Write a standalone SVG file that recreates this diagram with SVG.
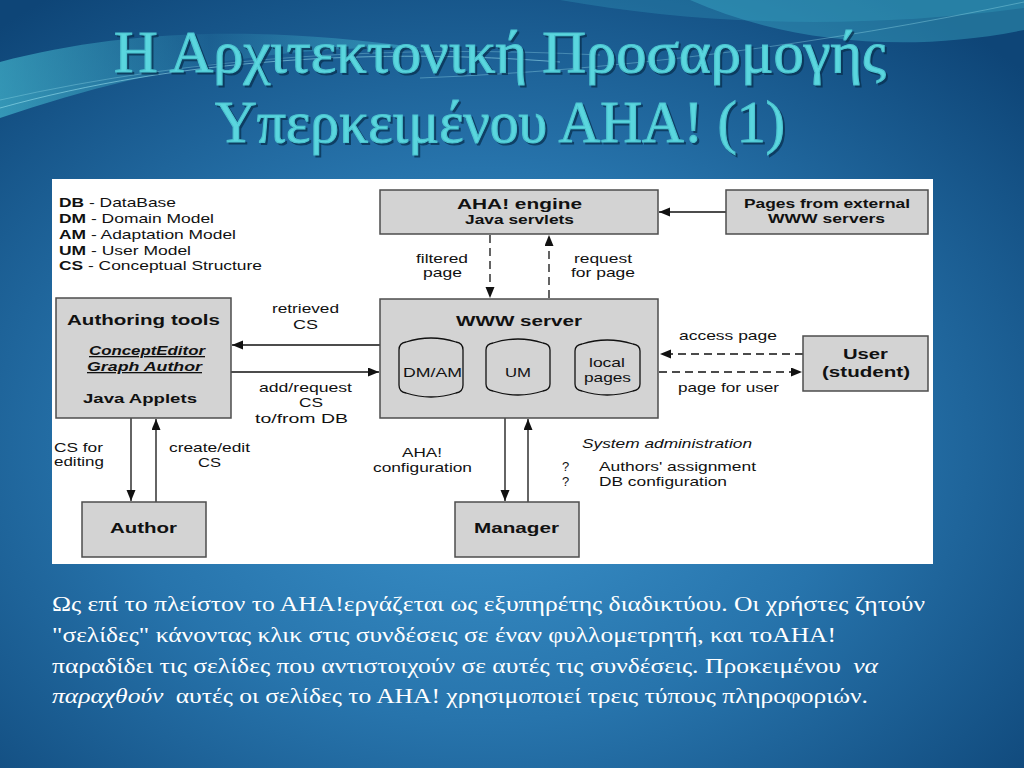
<svg xmlns="http://www.w3.org/2000/svg" width="1024" height="768" viewBox="0 0 1024 768">
<defs>
  <radialGradient id="bg" cx="0.47" cy="0.58" r="0.72">
    <stop offset="0" stop-color="#3d95cd"/>
    <stop offset="0.5" stop-color="#2774ac"/>
    <stop offset="1" stop-color="#0e4577"/>
  </radialGradient>
  <linearGradient id="sw" x1="0" y1="0" x2="1" y2="0">
    <stop offset="0" stop-color="#4fd0e0" stop-opacity="0.55"/>
    <stop offset="0.5" stop-color="#4fd0e0" stop-opacity="0.08"/>
    <stop offset="1" stop-color="#4fd0e0" stop-opacity="0.45"/>
  </linearGradient>
  <marker id="ah" markerUnits="userSpaceOnUse" markerWidth="12" markerHeight="10" refX="11" refY="4.5" orient="auto">
    <path d="M0,0 L11,4.5 L0,9 Z" fill="#111"/>
  </marker>
  <style>
    .t { font-family: "Liberation Sans", Arial, sans-serif; font-size: 13px; fill: #111; }
    .b { font-weight: bold; }
    .h { font-family: "Liberation Sans", Arial, sans-serif; font-size: 15px; font-weight: bold; fill: #111; }
    .box { fill: #d3d3d3; stroke: #4d4d4d; stroke-width: 1.5; }
    .cyl { fill: none; stroke: #111; stroke-width: 1.3; }
    .ln { stroke: #111; stroke-width: 1.3; fill: none; }
    .dash { stroke-dasharray: 8 5; }
    .title { font-family: "Liberation Serif", "Times New Roman", serif; font-size: 60px; fill: #5ad6de; stroke: #4cc4d0; stroke-width: 1.2; }
    .tshadow { font-family: "Liberation Serif", "Times New Roman", serif; font-size: 60px; fill: #08304f; stroke: #08304f; stroke-width: 1.2; opacity: 0.75; }
    .para { font-family: "Liberation Serif", "Times New Roman", serif; font-size: 22px; fill: #ffffff; }
  </style>
</defs>

<!-- background -->
<rect width="1024" height="768" fill="url(#bg)"/>
<path d="M0,62 C 120,30 260,25 420,48 C 280,45 140,70 0,118 Z" fill="url(#sw)"/>
<path d="M690,0 C 780,40 900,55 1024,30 L1024,0 Z" fill="#45c0d6" opacity="0.35"/>
<path d="M560,0 C 700,25 860,30 1024,8 L1024,0 Z" fill="#3ab0cc" opacity="0.25"/>
<path d="M0,108 C 180,58 380,48 560,62" stroke="#9fe6f2" stroke-width="1" fill="none" opacity="0.55"/>
<path d="M0,100 C 200,55 400,45 600,55" stroke="#9fe6f2" stroke-width="0.8" fill="none" opacity="0.4"/>
<path d="M420,78 C 620,70 820,45 1024,2" stroke="#9fe6f2" stroke-width="0.8" fill="none" opacity="0.45"/>

<!-- title -->
<g id="title">
  <text class="tshadow" x="116" y="74" textLength="772" lengthAdjust="spacingAndGlyphs">Η Αρχιτεκτονική Προσαρμογής</text>
  <text class="title" x="114" y="72" textLength="772" lengthAdjust="spacingAndGlyphs">Η Αρχιτεκτονική Προσαρμογής</text>
  <text class="tshadow" x="217" y="144" textLength="570" lengthAdjust="spacingAndGlyphs">Υπερκειμένου ΑΗΑ! (1)</text>
  <text class="title" x="215" y="142" textLength="570" lengthAdjust="spacingAndGlyphs">Υπερκειμένου ΑΗΑ! (1)</text>
</g>

<!-- diagram panel -->
<rect x="52" y="179" width="881" height="385" fill="#ffffff"/>

<g id="legend">
  <text class="t" x="59" y="207" textLength="117" lengthAdjust="spacingAndGlyphs"><tspan class="b">DB</tspan> - DataBase</text>
  <text class="t" x="59" y="223" textLength="155" lengthAdjust="spacingAndGlyphs"><tspan class="b">DM</tspan> - Domain Model</text>
  <text class="t" x="59" y="239" textLength="177" lengthAdjust="spacingAndGlyphs"><tspan class="b">AM</tspan> - Adaptation Model</text>
  <text class="t" x="59" y="255" textLength="132" lengthAdjust="spacingAndGlyphs"><tspan class="b">UM</tspan> - User Model</text>
  <text class="t" x="59" y="270" textLength="203" lengthAdjust="spacingAndGlyphs"><tspan class="b">CS</tspan> - Conceptual Structure</text>
</g>

<g id="connectors">
  <line class="ln" x1="726" y1="212" x2="659" y2="212" marker-end="url(#ah)"/>
  <line class="ln dash" x1="490" y1="235" x2="490" y2="298" marker-end="url(#ah)"/>
  <line class="ln dash" x1="549" y1="298" x2="549" y2="235" marker-end="url(#ah)"/>
  <line class="ln" x1="380" y1="345" x2="232" y2="345" marker-end="url(#ah)"/>
  <line class="ln" x1="231" y1="372" x2="379" y2="372" marker-end="url(#ah)"/>
  <line class="ln dash" x1="803" y1="354" x2="660" y2="354" marker-end="url(#ah)"/>
  <line class="ln dash" x1="659" y1="372" x2="802" y2="372" marker-end="url(#ah)"/>
  <line class="ln" x1="131" y1="418" x2="131" y2="501" marker-end="url(#ah)"/>
  <line class="ln" x1="156" y1="502" x2="156" y2="419" marker-end="url(#ah)"/>
  <line class="ln" x1="505" y1="418" x2="505" y2="501" marker-end="url(#ah)"/>
  <line class="ln" x1="528" y1="502" x2="528" y2="419" marker-end="url(#ah)"/>

  <text class="t" x="416" y="263" textLength="52" lengthAdjust="spacingAndGlyphs">filtered</text>
  <text class="t" x="423" y="277" textLength="39" lengthAdjust="spacingAndGlyphs">page</text>
  <text class="t" x="574" y="263" textLength="58" lengthAdjust="spacingAndGlyphs">request</text>
  <text class="t" x="571" y="277" textLength="64" lengthAdjust="spacingAndGlyphs">for page</text>
  <text class="t" x="272" y="313" textLength="67" lengthAdjust="spacingAndGlyphs">retrieved</text>
  <text class="t" x="293" y="329" textLength="25" lengthAdjust="spacingAndGlyphs">CS</text>
  <text class="t" x="259" y="392" textLength="93" lengthAdjust="spacingAndGlyphs">add/request</text>
  <text class="t" x="299" y="407" textLength="24" lengthAdjust="spacingAndGlyphs">CS</text>
  <text class="t" x="255" y="423" textLength="93" lengthAdjust="spacingAndGlyphs">to/from DB</text>
  <text class="t" x="679" y="340" textLength="98" lengthAdjust="spacingAndGlyphs">access page</text>
  <text class="t" x="678" y="392" textLength="101" lengthAdjust="spacingAndGlyphs">page for user</text>
  <text class="t" x="54" y="452" textLength="49" lengthAdjust="spacingAndGlyphs">CS for</text>
  <text class="t" x="54" y="466" textLength="50" lengthAdjust="spacingAndGlyphs">editing</text>
  <text class="t" x="169" y="452" textLength="81" lengthAdjust="spacingAndGlyphs">create/edit</text>
  <text class="t" x="198" y="467" textLength="23" lengthAdjust="spacingAndGlyphs">CS</text>
  <text class="t" x="402" y="457" textLength="40" lengthAdjust="spacingAndGlyphs">AHA!</text>
  <text class="t" x="373" y="472" textLength="99" lengthAdjust="spacingAndGlyphs">configuration</text>
</g>

<g id="aha-engine">
  <rect class="box" x="380" y="190" width="278" height="44"/>
  <text class="h" x="457" y="209" textLength="125" lengthAdjust="spacingAndGlyphs">AHA! engine</text>
  <text class="t b" x="465" y="224" textLength="109" lengthAdjust="spacingAndGlyphs">Java servlets</text>
</g>

<g id="external-pages">
  <rect class="box" x="726" y="190" width="202" height="44"/>
  <text class="t b" x="744" y="208" textLength="166" lengthAdjust="spacingAndGlyphs">Pages from external</text>
  <text class="t b" x="768" y="223" textLength="117" lengthAdjust="spacingAndGlyphs">WWW servers</text>
</g>

<g id="www-server">
  <rect class="box" x="380" y="299" width="278" height="119"/>
  <text class="h" x="456" y="326" textLength="126" lengthAdjust="spacingAndGlyphs">WWW server</text>
  <path class="cyl" d="M399,350 Q399,343 406,342 Q431,334 456,342 Q463,343 463,350 L463,385 Q463,392 456,393 Q431,401 406,393 Q399,392 399,385 Z"/>
  <path class="cyl" d="M486,350 Q486,344 493,343 Q518,335 543,343 Q550,344 550,350 L550,384 Q550,390 543,391 Q518,399 493,391 Q486,390 486,384 Z"/>
  <path class="cyl" d="M575,351 Q575,345 582,344 Q607,336 633,344 Q640,345 640,351 L640,384 Q640,390 633,391 Q607,399 582,391 Q575,390 575,384 Z"/>
  <text class="t" x="403" y="377" textLength="59" lengthAdjust="spacingAndGlyphs" fill="#1c1c40">DM/AM</text>
  <text class="t" x="505" y="377" textLength="26" lengthAdjust="spacingAndGlyphs">UM</text>
  <text class="t" x="589" y="367" textLength="36" lengthAdjust="spacingAndGlyphs">local</text>
  <text class="t" x="584" y="382" textLength="47" lengthAdjust="spacingAndGlyphs">pages</text>
</g>

<g id="authoring-tools">
  <rect class="box" x="56" y="298" width="175" height="120"/>
  <text class="h" x="67" y="325" textLength="153" lengthAdjust="spacingAndGlyphs">Authoring tools</text>
  <text class="t b" x="89" y="355" textLength="116" lengthAdjust="spacingAndGlyphs" font-style="italic" text-decoration="underline">ConceptEditor</text>
  <text class="t b" x="87" y="371" textLength="115" lengthAdjust="spacingAndGlyphs" font-style="italic" text-decoration="underline">Graph Author</text>
  <text class="t b" x="83" y="403" textLength="114" lengthAdjust="spacingAndGlyphs">Java Applets</text>
</g>

<g id="user">
  <rect class="box" x="803" y="336" width="125" height="55"/>
  <text class="h" x="843" y="359" textLength="45" lengthAdjust="spacingAndGlyphs">User</text>
  <text class="h" x="822" y="377" textLength="88" lengthAdjust="spacingAndGlyphs">(student)</text>
</g>

<g id="author">
  <rect class="box" x="82" y="502" width="124" height="55"/>
  <text class="h" x="110" y="533" textLength="67" lengthAdjust="spacingAndGlyphs">Author</text>
</g>

<g id="manager">
  <rect class="box" x="455" y="502" width="124" height="55"/>
  <text class="h" x="474" y="533" textLength="85" lengthAdjust="spacingAndGlyphs">Manager</text>
</g>

<g id="sysadmin">
  <text class="t" x="582" y="448" textLength="170" lengthAdjust="spacingAndGlyphs" font-style="italic">System administration</text>
  <text class="t" x="562" y="471">?</text>
  <text class="t" x="562" y="486">?</text>
  <text class="t" x="599" y="471" textLength="157" lengthAdjust="spacingAndGlyphs">Authors' assignment</text>
  <text class="t" x="599" y="486" textLength="128" lengthAdjust="spacingAndGlyphs">DB configuration</text>
</g>

<!-- paragraph -->
<g id="paragraph">
  <text class="para" x="52" y="611" textLength="873" lengthAdjust="spacingAndGlyphs">Ως επί το πλείστον το ΑΗΑ!εργάζεται ως εξυπηρέτης διαδικτύου. Οι χρήστες ζητούν</text>
  <text class="para" x="52" y="642" textLength="784" lengthAdjust="spacingAndGlyphs">"σελίδες" κάνοντας κλικ στις συνδέσεις σε έναν φυλλομετρητή, και τοΑΗΑ!</text>
  <text class="para" x="52" y="673" textLength="826" lengthAdjust="spacingAndGlyphs">παραδίδει τις σελίδες που αντιστοιχούν σε αυτές τις συνδέσεις. Προκειμένου <tspan dx="5" font-style="italic">να</tspan></text>
  <text class="para" x="52" y="703" textLength="816" lengthAdjust="spacingAndGlyphs"><tspan font-style="italic">παραχθούν</tspan> <tspan dx="5">αυτές οι σελίδες το ΑΗΑ! χρησιμοποιεί τρεις τύπους πληροφοριών.</tspan></text>
</g>
</svg>
